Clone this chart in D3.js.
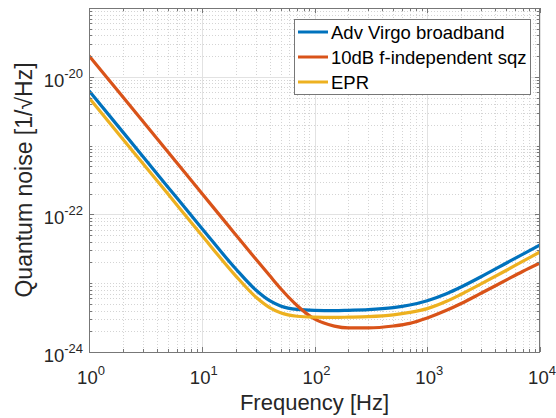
<!DOCTYPE html>
<html>
<head>
<meta charset="utf-8">
<script src="https://cdn.jsdelivr.net/npm/d3@7"></script>
<style>
  body { margin: 0; background: #fff; }
  svg { display: block; font-family: "Liberation Sans", Arial, sans-serif; }
</style>
</head>
<body>
<div id="chart"></div>
<script>
// frequencies [Hz] and quantum noise values [1/sqrt(Hz)]
var freq = [1, 2, 5, 10, 20, 30, 40, 50, 70, 100, 150, 200, 300, 500, 700, 1000, 1500, 2000, 3000, 5000, 7000, 10000];
var advVirgo = [6.28e-21, 1.57e-21, 2.51e-22, 6.30e-23, 1.62e-23, 8.02e-24, 5.57e-24, 4.68e-24, 4.16e-24, 4.03e-24,
    4.00e-24, 4.04e-24, 4.12e-24, 4.41e-24, 4.82e-24, 5.57e-24, 7.08e-24, 8.81e-24, 1.24e-23, 1.95e-23, 2.63e-23, 3.59e-23];
var sqz10dB = [2.03e-20, 5.07e-21, 8.11e-22, 2.03e-22, 5.07e-23, 2.26e-23, 1.29e-23, 8.39e-24, 4.75e-24, 3.02e-24,
    2.38e-24, 2.24e-24, 2.24e-24, 2.39e-24, 2.61e-24, 3.13e-24, 4.07e-24, 5.07e-24, 7.14e-24, 1.11e-23, 1.48e-23, 1.97e-23];
var epr = [4.97e-21, 1.24e-21, 1.99e-22, 4.98e-23, 1.28e-23, 6.34e-24, 4.42e-24, 3.72e-24, 3.31e-24, 3.21e-24,
    3.18e-24, 3.21e-24, 3.27e-24, 3.47e-24, 3.76e-24, 4.27e-24, 5.50e-24, 6.92e-24, 9.77e-24, 1.53e-23, 2.07e-23, 2.84e-23];

var seriesNames = ['Adv Virgo broadband', '10dB f-independent sqz', 'EPR'];
var seriesColors = ['#0072BD', '#D95319', '#EDB120'];
var seriesValues = [advVirgo, sqz10dB, epr];

var xTicks = [1, 10, 100, 1000, 10000];
var yTicks = [1e-24, 1e-22, 1e-20];

var W = 556, H = 418;
var pl = 89, pr = 540, pt = 8, pb = 352;
var axisColor = '#777';

var svg = d3.select('#chart').append('svg')
    .attr('width', W)
    .attr('height', H);

var x = d3.scaleLog().domain([1, 1e4]).range([pl, pr]);
var y = d3.scaleLog().domain([1e-24, 1e-19]).range([pb, pt]);

// minor positions 2..9 of each decade
function minorTicks(lo, hi) {
    var out = [];
    for (var e = lo; e < hi; e++) {
        for (var k = 2; k <= 9; k++) out.push(k * Math.pow(10, e));
    }
    return out;
}
var xMinor = minorTicks(0, 4);
// y: major every other decade, the rest are minor
var yMinor = minorTicks(-24, -19).concat([1e-23, 1e-21]);

var grid = svg.append('g');
grid.selectAll('.xmg').data(xMinor).enter().append('line')
    .attr('x1', function(d) { return Math.round(x(d)) + 0.5; })
    .attr('x2', function(d) { return Math.round(x(d)) + 0.5; })
    .attr('y1', pt).attr('y2', pb)
    .attr('stroke', '#d4d4d4').attr('stroke-dasharray', '1,2');
grid.selectAll('.ymg').data(yMinor).enter().append('line')
    .attr('y1', function(d) { return Math.round(y(d)) + 0.5; })
    .attr('y2', function(d) { return Math.round(y(d)) + 0.5; })
    .attr('x1', pl).attr('x2', pr)
    .attr('stroke', '#d4d4d4').attr('stroke-dasharray', '1,2');
grid.selectAll('.xg').data(xTicks).enter().append('line')
    .attr('x1', function(d) { return Math.round(x(d)) + 0.5; })
    .attr('x2', function(d) { return Math.round(x(d)) + 0.5; })
    .attr('y1', pt).attr('y2', pb)
    .attr('stroke', '#e2e2e2');
grid.selectAll('.yg').data(yTicks).enter().append('line')
    .attr('y1', function(d) { return Math.round(y(d)) + 0.5; })
    .attr('y2', function(d) { return Math.round(y(d)) + 0.5; })
    .attr('x1', pl).attr('x2', pr)
    .attr('stroke', '#e2e2e2');

// curves
svg.append('clipPath').attr('id', 'clip')
    .append('rect').attr('x', pl).attr('y', pt).attr('width', pr - pl).attr('height', pb - pt);

var line = d3.line()
    .x(function(d) { return x(d[0]); })
    .y(function(d) { return y(d[1]); })
    .curve(d3.curveMonotoneX);

var plot = svg.append('g').attr('clip-path', 'url(#clip)');
seriesValues.forEach(function(vals, i) {
    plot.append('path')
        .datum(freq.map(function(f, j) { return [f, vals[j]]; }))
        .attr('d', line)
        .attr('fill', 'none')
        .attr('stroke', seriesColors[i])
        .attr('stroke-width', 3.2)
        .attr('stroke-linejoin', 'round');
});

// axes with inward ticks on all four sides (box on)
var axes = svg.append('g').attr('stroke', axisColor).attr('stroke-width', 1);
axes.append('rect')
    .attr('x', pl + 0.5).attr('y', pt + 0.5)
    .attr('width', pr - pl - 1).attr('height', pb - pt)
    .attr('fill', 'none');

function xTickMarks(vals, len) {
    vals.forEach(function(d) {
        var px = Math.round(x(d)) + 0.5;
        axes.append('line').attr('x1', px).attr('x2', px).attr('y1', pb).attr('y2', pb - len);
        axes.append('line').attr('x1', px).attr('x2', px).attr('y1', pt).attr('y2', pt + len);
    });
}
function yTickMarks(vals, len) {
    vals.forEach(function(d) {
        var py = Math.round(y(d)) + 0.5;
        axes.append('line').attr('y1', py).attr('y2', py).attr('x1', pl).attr('x2', pl + len);
        axes.append('line').attr('y1', py).attr('y2', py).attr('x1', pr).attr('x2', pr - len);
    });
}
xTickMarks(xTicks, 5);
xTickMarks(xMinor, 3);
yTickMarks(yTicks, 5);
yTickMarks(yMinor, 3);

// tick labels as 10^n
function expOf(d) { return Math.round(Math.log10(d)); }

var lab = svg.append('g').attr('fill', '#262626');
xTicks.forEach(function(d) {
    var t = lab.append('text')
        .attr('x', x(d) + 2)
        .attr('y', 384)
        .attr('text-anchor', 'middle')
        .style('font-size', '18.5px');
    t.append('tspan').text('10');
    t.append('tspan').attr('dy', -9).style('font-size', '13px').text(expOf(d));
});

yTicks.forEach(function(d) {
    var t = lab.append('text')
        .attr('x', 83)
        .attr('y', y(d) + 10)
        .attr('text-anchor', 'end')
        .style('font-size', '18.5px');
    t.append('tspan').text('10');
    t.append('tspan').attr('dy', -9).style('font-size', '13px').text(expOf(d));
});

// axis titles
lab.append('text')
    .attr('x', (pl + pr) / 2)
    .attr('y', 410)
    .attr('text-anchor', 'middle')
    .style('font-size', '22px')
    .text('Frequency [Hz]');

lab.append('text')
    .attr('transform', 'translate(32,' + ((pt + pb) / 2) + ') rotate(-90)')
    .attr('text-anchor', 'middle')
    .style('font-size', '23px')
    .text('Quantum noise [1/\u221AHz]');

// legend
var lg = svg.append('g');
lg.append('rect')
    .attr('x', 294.5).attr('y', 19.5)
    .attr('width', 236).attr('height', 75)
    .attr('fill', '#fff')
    .attr('stroke', axisColor);
seriesNames.forEach(function(name, i) {
    var cy = 32 + i * 25;
    lg.append('line')
        .attr('x1', 298).attr('x2', 328)
        .attr('y1', cy).attr('y2', cy)
        .attr('stroke', seriesColors[i])
        .attr('stroke-width', 3);
    lg.append('text')
        .attr('x', 331)
        .attr('y', cy + 6.5)
        .attr('fill', '#000')
        .style('font-size', '18.5px')
        .text(name);
});
</script>
</body>
</html>
